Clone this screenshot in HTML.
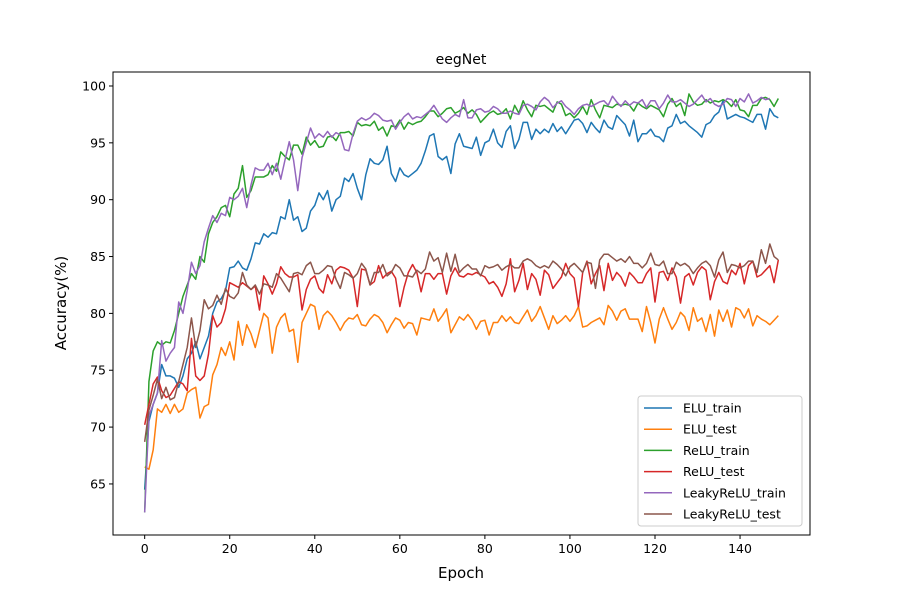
<!DOCTYPE html>
<html><head><meta charset="utf-8"><style>body{margin:0;background:#fff}svg{display:block;font-family:"DejaVu Sans","Liberation Sans",sans-serif}</style></head>
<body>
<svg id="chart" width="900" height="600" viewBox="0 0 900 600">
<rect width="900" height="600" fill="#fff"/>
<text x="461" y="64" font-size="14" text-anchor="middle">eegNet</text>
<g id="plot"></g>
<rect x="113" y="72" width="697" height="463" fill="none" stroke="#000" stroke-width="1"/>
<text x="461" y="578" font-size="15" text-anchor="middle">Epoch</text>
<text transform="translate(66,303) rotate(-90)" font-size="15" text-anchor="middle">Accuracy(%)</text>
<g id="legend"></g>
</svg>
<script>
const seriesNames=["ELU_train","ELU_test","ReLU_train","ReLU_test","LeakyReLU_train","LeakyReLU_test"];
const seriesColors=["#1f77b4","#ff7f0e","#2ca02c","#d62728","#9467bd","#8c564b"];
const xTicks=[0,20,40,60,80,100,120,140];
const yTicks=[65,70,75,80,85,90,95,100];
const eluTrain=[64.5,70.5,72,73,75.5,74.5,74.5,74.3,73.5,74.5,76,76.5,77.5,76,77,78,80,81,81.3,82,84,84.1,84.6,84,83.8,84.8,86.2,86.1,87,86.7,87.1,87,88.5,88.3,90,88.2,88.5,87.2,87.5,89,89.5,90.6,90,90.8,89,90,90.3,91.9,91.6,92.3,91,90,92.2,93.6,93.2,93.1,93.5,94.7,92.3,91.6,92.8,92.2,92,92.3,92.6,93.2,94.3,95.6,95.8,93.8,93.5,93.8,92.3,94.9,95.8,94.7,94.6,94.5,95.5,93.9,95,95.2,96.2,95,94.6,96,96.5,94.5,95.3,96.8,96.8,95.3,96.2,95.8,96.2,95.9,96.7,96,96.4,95.8,96.4,97,97.1,96.7,95.9,96.8,96.3,95.9,97,96.4,96.2,97.4,97,96.6,95.6,97,95.1,95.8,95.8,96.2,95.6,95.5,95.1,96.3,96.5,97.5,96.7,96.9,96.5,96.2,95.9,95.5,96.6,96.8,97.4,97.7,98.7,97.1,97.3,97.5,97.3,97.2,97.0,96.8,97.5,97.5,96.2,98.0,97.4,97.2];
const eluTest=[66.5,66.3,68,71.6,71.3,72,71.2,72,71.3,71.6,73,73.3,73.5,70.8,71.8,72,74.6,75.5,77,76.3,77.5,75.9,79.3,77.2,79,78.2,77,78.5,80,79.6,76.5,78.8,79.6,80,78.4,78.6,75.7,79.2,80,80.8,80.6,78.6,79.8,80.2,79.8,79.2,78.5,79.2,79.6,79.5,79.9,79,78.9,79.5,79.9,79.7,79.2,78.3,79,79.6,79.4,78.7,79.2,79.1,78.1,79.6,79.5,79.4,80.4,79.3,79.8,80.4,78.3,79,79.7,79.4,79.9,79.4,78.6,79.3,79.4,78.1,79.2,79.2,79.8,79.3,79.7,79.2,79.1,79.7,80.3,79.3,79.8,80.6,79.6,78.6,79.8,79.1,79.4,79.8,79.3,79.8,80.6,78.8,78.9,79.2,79.4,79.6,79.0,80.7,80.2,79.4,80.2,80.4,79.5,79.5,79.5,78.4,80.6,79.2,77.4,79.5,80.5,79.5,78.6,79.2,80.1,79.7,78.5,80.5,79.3,79.6,78.4,79.9,78.0,80.3,79.3,80.3,78.8,80.5,80.3,79.6,80.4,78.9,79.8,79.5,79.3,79.0,79.4,79.8];
const reluTrain=[62.5,74,76.7,77.5,77.2,77.5,77.4,78.5,80,81.5,82.5,83.5,83,85,84.5,87,88,88.5,89.3,89.5,88.5,90.5,91,93,90.2,90.8,92,92,92,92.2,93,92.5,94.2,93.8,93.5,94.8,94.8,94,95.5,94.8,95.2,94.6,94.7,95.5,95.6,95.2,95.9,95.9,96,95.6,96.8,96.5,96.6,96.5,96.9,96.1,96.4,95.6,96.5,96.4,97.0,96.2,96.8,96.6,96.8,96.9,97.3,97.8,97.8,97.3,97.6,98.0,98.1,97.6,97.8,98.1,97.6,97.9,97.5,96.8,97.2,97.6,97.8,97.5,97.6,98.0,97.1,98.3,97.6,98.7,97.9,97.3,98.3,98.2,98.3,98.0,97.7,98.6,98.4,97.4,97.6,97.2,97.6,98.2,97.5,98.8,97.9,97.2,98.3,98.2,98.1,98.4,98.3,98.4,98.3,97.8,98.5,98.2,98.0,98.3,98.1,97.9,97.3,98.4,98.9,98.2,98.5,97.4,99.3,98.6,98.3,98.4,98.8,98.5,98.7,98.6,98.8,98.6,98.2,98.8,97.9,97.8,97.3,98.3,98.3,98.9,99.0,98.8,98.2,98.9];
const reluTest=[70.2,72,73.8,74.4,73.2,72.6,72.8,73.4,74,73.8,73.2,77.8,74.5,74.1,74.5,76.4,79.8,78.8,79.2,80.4,82.7,82.5,82.3,82.7,82.4,82.1,82.4,80.3,83.3,82.6,81.7,82.6,84.1,83.5,83.2,83.2,83.4,80.3,82.1,83,83.3,82.2,81.8,83.4,82.6,83.8,84.1,84.0,83.8,83.1,80.6,83.9,83.8,82.5,82.8,84.2,83.1,83.5,83.7,83.1,80.6,82.3,83.6,84.3,83.6,81.9,83.5,83.5,83.0,83.5,83.5,81.7,83.3,84.0,83.3,83.2,83.5,83.4,83.6,83.4,83.2,82.6,82.8,82.3,81.5,82.6,84.8,81.9,82.9,84.4,82.1,83.5,83.0,81.6,83.8,83.4,82.2,82.7,83.2,84.4,83.5,83.1,80.6,83.6,84.6,82.6,83.5,84.2,82.0,84.4,82.9,83.6,83.2,82.4,83.6,83.2,82.7,82.7,83.5,84.0,81.0,83.6,83.7,82.9,84.0,83.2,80.9,83.2,83.5,82.5,83.6,84.1,83.8,81.2,82.8,83.6,82.8,82.6,83.8,83.4,84.4,82.6,84.2,84.6,83.2,83.4,83.8,84.2,82.7,84.7];
const leakyTrain=[62.5,71,72,73,77.6,75.8,76.5,77,81,80,82,84.5,83.5,84.2,86.3,87.5,88.6,88,88.8,88.6,90.2,90,90.3,91,89.3,91.3,92.8,92.6,92.6,93.2,92.2,93.2,91.8,93.5,95.1,93.5,90.8,93.7,95,96.3,95.4,95.8,95.5,96,95.5,95.9,95.7,94.4,94.3,95.8,96.9,97.2,97.0,97.2,97.6,97.4,97.0,96.9,97.0,96.2,96.8,97.3,97.6,97.1,97.3,97.2,97.5,97.8,98.3,97.7,97.1,96.8,97.2,97.5,97.3,98.8,97.2,97.2,97.9,98.0,97.7,97.8,98.2,98.0,97.6,97.6,97.8,97.6,97.5,98.3,98.4,98.2,97.9,98.6,99.0,98.7,98.1,98.5,98.7,98.2,97.9,97.5,98.0,98.3,98.4,98.2,98.4,98.6,98.7,98.3,99.1,98.6,98.2,98.7,98.3,98.6,98.5,98.8,98.1,98.7,98.7,98.0,98.5,99.2,98.6,98.6,98.8,98.5,98.2,98.4,98.8,99.2,98.6,98.9,98.4,98.2,98.4,98.9,98.8,98.2,98.9,98.6,99.3,98.5,98.7,99.0,98.8,98.9];
const leakyTest=[68.7,71.5,72.8,74.2,72.5,73.5,72.4,72.6,74,75.5,77,79.6,77,78.5,81.2,80.4,80.7,81.6,80.8,82.2,81.5,81.3,81.8,83.6,82.5,82.1,82.5,81.7,82.6,82.5,82.3,83.5,83.1,82.5,81.9,83.5,83.6,83.4,84.2,84.5,83.5,83.5,83.8,84.2,84.1,83.0,82.2,83.6,83.4,83.1,83.5,84.4,83.9,82.5,83.6,83.6,84.3,83.3,83.6,84.3,84.0,83.3,83.3,83.2,83.8,83.5,83.9,85.4,84.6,84.9,83.6,85.3,83.7,85.2,83.6,84.0,84.3,83.9,83.9,83.3,84.2,84.0,84.1,84.3,83.8,84.1,84.3,84.0,84.0,84.6,84.8,84.6,84.2,84.0,84.2,84.0,84.6,84.3,83.9,83.3,84.1,84.4,84.0,83.6,84.5,84.4,82.2,84.7,85.2,85.2,84.9,84.6,84.8,84.5,85.0,84.4,84.4,84.0,84.4,85.3,84.3,84.2,84.6,83.5,83.5,84.5,84.2,84.4,84.1,83.5,84.0,84.4,84.6,84.2,83.2,84.7,85.4,83.6,84.3,84.2,84.0,84.2,84.6,84.6,83.6,85.6,84.4,86.1,85.0,84.7];
const allSeries=[eluTrain,eluTest,reluTrain,reluTest,leakyTrain,leakyTest];

const NS="http://www.w3.org/2000/svg";
const PX0=113,PX1=810,PY0=72,PY1=535;
const XMIN=-7.45,XMAX=156.45,YMIN=60.51,YMAX=101.23;
function xs(v){return PX0+(v-XMIN)/(XMAX-XMIN)*(PX1-PX0);}
function ys(v){return PY1-(v-YMIN)/(YMAX-YMIN)*(PY1-PY0);}
function mk(tag,attrs,parent){const e=document.createElementNS(NS,tag);for(const k in attrs)e.setAttribute(k,attrs[k]);parent.appendChild(e);return e;}
const plot=document.getElementById('plot');
xTicks.forEach(t=>{
  const l=mk('line',{x1:xs(t),x2:xs(t),y1:PY1,y2:PY1+4,stroke:'#000'},plot);
  
  
  const tx=mk('text',{x:xs(t),y:PY1+18,'font-size':12.5,'text-anchor':'middle'},plot);
  tx.textContent=t;
  
  
});
yTicks.forEach(t=>{
  const l=mk('line',{x1:PX0-4,x2:PX0,y1:ys(t),y2:ys(t),stroke:'#000'},plot);
  
  
  const tx=mk('text',{x:PX0-7,y:ys(t)+4.5,'font-size':12.5,'text-anchor':'end'},plot);
  tx.textContent=t;
  
  
});
allSeries.forEach((s,i)=>{
  const pts=s.slice(0,150).map((v,j)=>xs(j).toFixed(2)+','+ys(v).toFixed(2)).join(' ');
  const p=mk('polyline',{points:pts,fill:'none',stroke:seriesColors[i],'stroke-width':1.5,'stroke-linejoin':'round'},plot);
  
  
});
const lg=document.getElementById('legend');
const box=mk('rect',{x:638,y:396,width:164,height:130,rx:3,fill:'#fff','fill-opacity':0.8,stroke:'#ccc'},lg);


seriesNames.forEach((n,i)=>{
  const y=408+i*21.2;
  const g=mk('g',{},lg);
  
  
  mk('line',{x1:644,x2:672,y1:y,y2:y,stroke:seriesColors[i],'stroke-width':1.5},g);
  const t=mk('text',{x:683,y:y+4.5,'font-size':12.5},g);
  t.textContent=n;
});
</script>
</body></html>
